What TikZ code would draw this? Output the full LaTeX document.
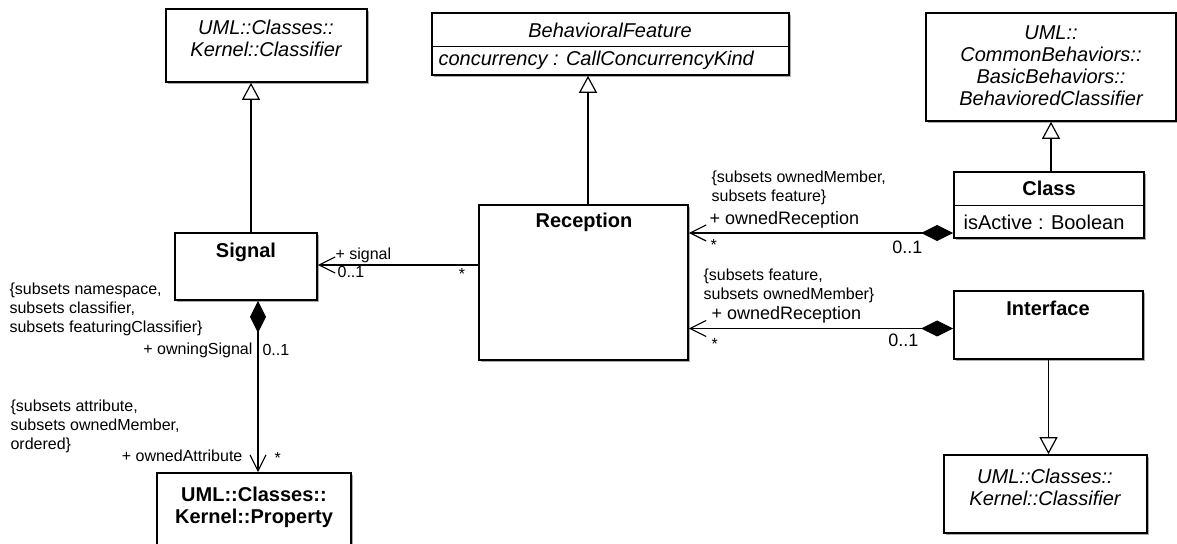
\documentclass[tikz,border=0pt]{standalone}
\usepackage{fontspec}
\setmainfont{Liberation Sans}
\usetikzlibrary{arrows.meta, positioning, shadows}

\begin{document}
\begin{tikzpicture}[x=0.5pt, y=-0.5pt, line width=0.6pt,
		cls/.style={draw, fill=white, line width=0.8pt, inner sep=0pt,
			drop shadow={shadow xshift=1.2pt, shadow yshift=-1.2pt, opacity=0.6, fill=black!55}},
		title/.style={font=\fontsize{10}{11}\selectfont\bfseries, align=center, inner sep=0pt},
		abstitle/.style={font=\fontsize{10}{11}\selectfont\itshape, align=center, inner sep=0pt},
		attr/.style={font=\fontsize{10}{11}\selectfont, anchor=west, inner sep=0pt},
		note/.style={font=\fontsize{8}{9.5}\selectfont, align=left, inner sep=0pt},
		role/.style={font=\fontsize{9}{10}\selectfont, inner sep=0pt},
		gen/.style={-{Triangle[open, length=8.5pt, width=9pt]}},
		nav/.style={-{Straight Barb[length=8pt, width=8pt]}},
		comp/.style={{Diamond[length=16pt, width=8pt]}-{Straight Barb[length=8pt, width=8pt]}}]
			\useasboundingbox (0,0) rectangle (1177,544);
			% classes
			\node[cls, minimum width=100.5pt, minimum height=36.5pt] (classifierA) at (266.5,45.5) {};
			\node[cls, minimum width=178.5pt, minimum height=31pt] (behFeature) at (610.5,44) {};
			\node[cls, minimum width=125pt, minimum height=54pt] (behClassifier) at (1051,67) {};
			\node[cls, minimum width=71pt, minimum height=33.5pt] (signal) at (246,266.5) {};
			\node[cls, minimum width=104.5pt, minimum height=77.5pt] (reception) at (583.5,282.5) {};
			\node[cls, minimum width=95pt, minimum height=33pt] (class) at (1049,205) {};
			\node[cls, minimum width=94.5pt, minimum height=34pt] (interface) at (1048.5,325) {};
			\node[cls, minimum width=101.5pt, minimum height=39pt] (classifierB) at (1045.5,494) {};
			\node[cls, minimum width=97pt, minimum height=43.5pt] (property) at (254,516.5) {};
			\draw ([yshift=-17pt]behFeature.north west) -- ([yshift=-17pt]behFeature.north east);
			\draw ([yshift=-17pt]class.north west) -- ([yshift=-17pt]class.north east);
			% names and attributes
			\node[abstitle] (classifierAName) at (266,38) {UML::Classes::\\Kernel::Classifier};
			\node[abstitle] (behFeatureName) at (610,30) {BehavioralFeature};
			\node[attr, font=\fontsize{10}{11}\selectfont\itshape] (concurrency) at (438,60) {concurrency : CallConcurrencyKind};
			\node[abstitle] (behClassifierName) at (1051,65.5) {UML::\\CommonBehaviors::\\BasicBehaviors::\\BehavioredClassifier};
			\node[title] (signalName) at (246,252) {Signal};
			\node[title] (receptionName) at (584,222) {Reception};
			\node[title] (className) at (1049,188) {Class};
			\node[attr] (isActive) at (963,222) {isActive : Boolean};
			\node[title] (interfaceName) at (1048,308) {Interface};
			\node[abstitle] (classifierBName) at (1045,487) {UML::Classes::\\Kernel::Classifier};
			\node[title] (propertyName) at (254,507) {UML::Classes::\\Kernel::Property};
			% generalizations
			\draw[gen] ([xshift=2.5pt]signal.north) -- ([xshift=2.5pt]signal.north |- classifierA.south);
			\draw[gen] ([xshift=2.25pt]reception.north) -- ([xshift=2.25pt]reception.north |- behFeature.south);
			\draw[gen] ([xshift=1pt]class.north) -- ([xshift=1pt]class.north |- behClassifier.south);
			\draw[gen] (interface.south) -- (interface.south |- classifierB.north);
			% associations
			\draw[nav] (reception.west |- 0,265) -- (signal.east |- 0,265);
			\draw[comp] ([xshift=6pt]signal.south) -- ([xshift=6pt]signal.south |- property.north);
			\draw[comp] ([yshift=-14pt]class.west) -- ([yshift=-14pt]class.west -| reception.east);
			\draw[comp] ([yshift=-1.75pt]interface.west) -- ([yshift=-1.75pt]interface.west -| reception.east);
			% association ends
			\node[note, anchor=west] (sigRole) at (335,255) {+ signal};
			\node[note, anchor=west] (sigMult) at (337,272) {0..1};
			\node[note] (recMult) at (462,274) {*};
			\node[note, anchor=west] (nsNote) at (9,309) {\{subsets namespace,\\subsets classifier,\\subsets featuringClassifier\}};
			\node[note, anchor=east] (owningSignal) at (253,350) {+ owningSignal};
			\node[note, anchor=west] (owningMult) at (262,350) {0..1};
			\node[note, anchor=west] (attrNote) at (10,426) {\{subsets attribute,\\subsets ownedMember,\\ordered\}};
			\node[note, anchor=east] (ownedAttr) at (243,456) {+ ownedAttribute};
			\node[note, anchor=west] (attrMult) at (274,458) {*};
			\node[note, anchor=west] (classNote) at (711,188) {\{subsets ownedMember,\\subsets feature\}};
			\node[role, anchor=west] (classRole) at (709,220) {+ ownedReception};
			\node[note, anchor=west] (classStar) at (710,245) {*};
			\node[role, anchor=east] (classMult) at (923,247) {0..1};
			\node[note, anchor=west] (ifNote) at (703,286) {\{subsets feature,\\subsets ownedMember\}};
			\node[role, anchor=west] (ifRole) at (711,315) {+ ownedReception};
			\node[note, anchor=west] (ifStar) at (711,344) {*};
			\node[role, anchor=east] (ifMult) at (919,340) {0..1};
		\end{tikzpicture}
\end{document}
